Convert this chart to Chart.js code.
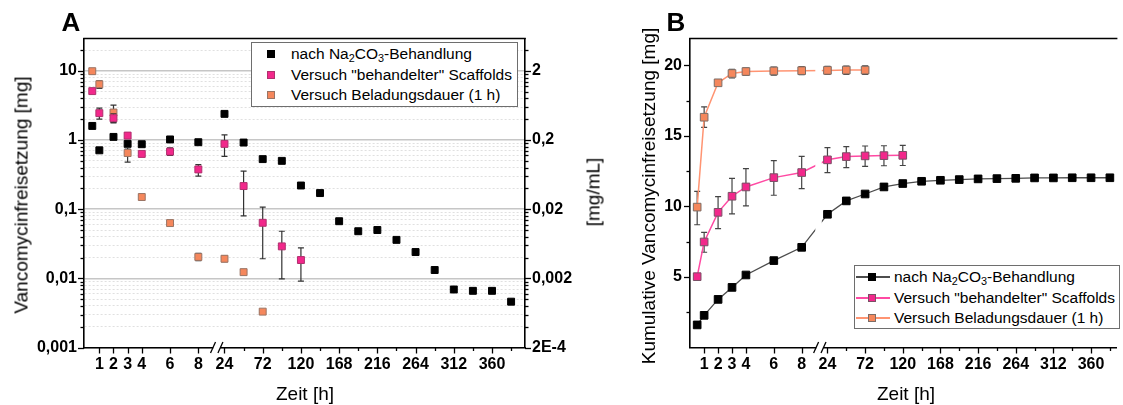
<!DOCTYPE html>
<html lang="de">
<head>
<meta charset="utf-8">
<title>Vancomycinfreisetzung</title>
<script src="https://cdn.jsdelivr.net/npm/chart.js@4.4.1/dist/chart.umd.min.js"></script>
<style>
  body { margin: 0; background: #fff; font-family: 'Liberation Sans', Arial, sans-serif; color: #000; }
  #page { position: relative; width: 1123px; height: 405px; overflow: hidden; }
  canvas { position: absolute; top: 0; }
  .txt { position: absolute; white-space: nowrap; line-height: 1; transform: translate(-50%, -50%); }
  .rot { transform: translate(-50%, -50%) rotate(-90deg); }
  .letter { font-size: 26px; font-weight: bold; }
  .title { font-size: 19px; }
  .legend { position: absolute; background: #fff; border: 1.5px solid #6e6e6e; box-sizing: border-box; font-size: 15.5px; }
  .legend .row { position: absolute; left: 0; right: 0; height: 20px; line-height: 20px; white-space: nowrap; }
  .legend .mark { position: absolute; top: 6px; width: 8px; height: 8px; box-sizing: border-box; border: 1px solid; }
  .legend .line { position: absolute; top: 9.3px; height: 1.4px; }
  .legend .label { position: absolute; top: 0; }
  sub { font-size: 70%; line-height: 0; vertical-align: -0.25em; }
</style>
</head>
<body>
<div id="page">
  <canvas id="chartA" width="615" height="405" style="left:0"></canvas>
  <canvas id="chartB" width="508" height="405" style="left:615px"></canvas>

  <div class="txt letter" style="left:71px;top:22px">A</div>
  <div class="txt letter" style="left:676px;top:22px">B</div>

  <div class="txt title rot" style="left:21px;top:195px">Vancomycinfreisetzung [mg]</div>
  <div class="txt title rot" style="left:593px;top:192px">[mg/mL]</div>
  <div class="txt title" style="left:305px;top:393px">Zeit [h]</div>
  <div class="txt title rot" style="left:648px;top:196px">Kumulative Vancomycinfreisetzung [mg]</div>
  <div class="txt title" style="left:906px;top:393px">Zeit [h]</div>

  <div class="legend" style="left:251px;top:42px;width:267px;height:65px">
    <div class="row" style="top:1px">
      <span class="mark" style="left:15px;background:#000;border-color:#000"></span>
      <span class="label" style="left:39px">nach Na<sub>2</sub>CO<sub>3</sub>-Behandlung</span>
    </div>
    <div class="row" style="top:22px">
      <span class="mark" style="left:15px;background:#f2288b;border-color:#b0306e"></span>
      <span class="label" style="left:39px">Versuch "behandelter" Scaffolds</span>
    </div>
    <div class="row" style="top:42px">
      <span class="mark" style="left:15px;background:#f5875c;border-color:#9a7464"></span>
      <span class="label" style="left:39px">Versuch Beladungsdauer (1 h)</span>
    </div>
  </div>

  <div class="legend" style="left:854px;top:265px;width:266px;height:64px">
    <div class="row" style="top:1px">
      <span class="line" style="left:1px;width:34px;background:#4d4d4d"></span>
      <span class="mark" style="left:13px;background:#000;border-color:#000"></span>
      <span class="label" style="left:39px">nach Na<sub>2</sub>CO<sub>3</sub>-Behandlung</span>
    </div>
    <div class="row" style="top:22px">
      <span class="line" style="left:1px;width:34px;background:#ff4aa3"></span>
      <span class="mark" style="left:13px;background:#f2288b;border-color:#7a5066"></span>
      <span class="label" style="left:39px">Versuch "behandelter" Scaffolds</span>
    </div>
    <div class="row" style="top:42px">
      <span class="line" style="left:1px;width:34px;background:#ff9472"></span>
      <span class="mark" style="left:13px;background:#f5875c;border-color:#7e6d66"></span>
      <span class="label" style="left:39px">Versuch Beladungsdauer (1 h)</span>
    </div>
  </div>
</div>

<script>
// Sampling times [h]
const hours = [0.5, 1, 2, 3, 4, 6, 8, 24, 48, 72, 96, 120, 144, 168, 192, 216, 240, 264, 288, 312, 336, 360, 384];

// Panel A: release per sampling interval [mg]
const naRelease = [1.6, 0.71, 1.11, 0.88, 0.87, 1.02, 0.93, 2.39, 0.92, 0.53, 0.50, 0.22, 0.171, 0.067, 0.048, 0.050, 0.036, 0.024, 0.0132, 0.0069, 0.0066, 0.0066, 0.0046];
const treatedRelease = [5.1, 2.45, 2.07, 1.16, 0.63, 0.68, 0.376, 0.88, 0.216, 0.0636, 0.029, 0.0184];
const treatedLow = [4.8, 2.0, 1.8, 1.05, 0.59, 0.6, 0.30, 0.58, 0.080, 0.0192, 0.0098, 0.0091];
const treatedHigh = [5.4, 2.9, 2.4, 1.27, 0.67, 0.77, 0.44, 1.19, 0.356, 0.107, 0.048, 0.0275];
const loadingRelease = [9.9, 6.4, 2.5, 0.65, 0.15, 0.063, 0.0204, 0.0192, 0.0123, 0.0033];
const loadingLow = [9.3, 5.6, 1.77, 0.48, 0.14, 0.06, 0.018, 0.0175, 0.0117, 0.0032];
const loadingHigh = [10.5, 7.2, 3.2, 0.77, 0.16, 0.066, 0.023, 0.021, 0.013, 0.0034];

// Panel B: cumulative release [mg]
const naCumulative = [1.6, 2.28, 3.41, 4.26, 5.14, 6.16, 7.1, 9.44, 10.39, 10.88, 11.38, 11.62, 11.78, 11.85, 11.9, 11.95, 11.97, 11.99, 12.02, 12.02, 12.03, 12.03, 12.03];
const treatedCumulative = [5.02, 7.48, 9.58, 10.72, 11.38, 12.04, 12.4, 13.3, 13.53, 13.58, 13.6, 13.62];
const treatedCumLow = [4.9, 6.75, 8.43, 9.47, 10.04, 10.79, 11.26, 12.4, 12.75, 12.83, 12.88, 12.9];
const treatedCumHigh = [5.15, 8.16, 10.7, 11.99, 12.68, 13.25, 13.55, 14.17, 14.24, 14.28, 14.3, 14.32];
const loadingCumulative = [9.95, 16.32, 18.76, 19.42, 19.56, 19.6, 19.62, 19.64, 19.66, 19.66];
const loadingCumLow = [8.7, 15.6, 18.6, 19.1, 19.3, 19.3, 19.33, 19.35, 19.36, 19.36];
const loadingCumHigh = [11.07, 17.06, 18.92, 19.72, 19.8, 19.88, 19.9, 19.92, 19.95, 19.96];

// Axis ticks
const xTickHours = [1, 2, 3, 4, 6, 8, 24, 72, 120, 168, 216, 264, 312, 360];
const xTickLabels = ['1', '2', '3', '4', '6', '8', '24', '72', '120', '168', '216', '264', '312', '360'];
const xMinorHours = [48, 96, 144, 192, 240, 288, 336, 384];
const yTicksA = [0.001, 0.01, 0.1, 1, 10];
const yLabelsA = ['0,001', '0,01', '0,1', '1', '10'];
const y2TicksA = [0.0002, 0.002, 0.02, 0.2, 2];
const y2LabelsA = ['2E-4', '0,002', '0,02', '0,2', '2'];
const yTicksB = [5, 10, 15, 20];
const yLabelsB = ['5', '10', '15', '20'];
const yMinorB = [2.5, 7.5, 12.5, 17.5];

const seriesNames = ['nach Na₂CO₃-Behandlung', 'Versuch "behandelter" Scaffolds', 'Versuch Beladungsdauer (1 h)'];

const FONT = "'Liberation Sans', Arial, sans-serif";
const tickFont = { family: FONT, size: 16, weight: 'bold' };

// Broken time axis: 0-9.3 h linear, then a compressed linear part from ~14 h on
const BREAK_AT = 9.3;
function axisPos(t) {
    return t <= BREAK_AT ? t : 9.85 + (t - 24) * 0.0563;
}

function toPoints(values) {
    return values.map((v, i) => ({ x: axisPos(hours[i]), y: v }));
}

// minor log ticks 2..9 per decade
const A_MAX = 29.4;
const yMinorA = [];
yTicksA.forEach(d => {
    for (let m = 2; m <= 9; m++) {
        const v = +(d * m).toPrecision(3);
        if (v < A_MAX) yMinorA.push(v);
    }
});

// Error bars, drawn just under each dataset's markers
const errorBars = {
    id: 'errorBars',
    beforeDatasetDraw(chart, args) {
        const ds = chart.data.datasets[args.index];
        if (!ds.errLow) return;
        const ctx = chart.ctx;
        const yScale = chart.scales.y;
        ctx.save();
        ctx.strokeStyle = ds.errColor || '#333';
        ctx.lineWidth = 1.2;
        args.meta.data.forEach((pt, i) => {
            const yLo = yScale.getPixelForValue(ds.errLow[i]);
            const yHi = yScale.getPixelForValue(ds.errHigh[i]);
            ctx.beginPath();
            ctx.moveTo(pt.x, yLo);
            ctx.lineTo(pt.x, yHi);
            ctx.moveTo(pt.x - 3, yLo);
            ctx.lineTo(pt.x + 3, yLo);
            ctx.moveTo(pt.x - 3, yHi);
            ctx.lineTo(pt.x + 3, yHi);
            ctx.stroke();
        });
        ctx.restore();
    }
};

// Outward tick marks (major + minor) on every axis
const tickMarks = {
    id: 'tickMarks',
    afterDraw(chart, args, opts) {
        const { ctx, chartArea } = chart;
        ctx.save();
        ctx.strokeStyle = '#000';
        ctx.lineWidth = 1.3;
        opts.marks.forEach(m => {
            const scale = chart.scales[m.axis];
            m.values.forEach(v => {
                const p = Math.round(scale.getPixelForValue(v)) + 0.5;
                ctx.beginPath();
                if (scale.isHorizontal()) {
                    ctx.moveTo(p, chartArea.bottom);
                    ctx.lineTo(p, chartArea.bottom + m.len);
                } else if (scale.position === 'left') {
                    ctx.moveTo(chartArea.left, p);
                    ctx.lineTo(chartArea.left - m.len, p);
                } else {
                    ctx.moveTo(chartArea.right, p);
                    ctx.lineTo(chartArea.right + m.len, p);
                }
                ctx.stroke();
            });
        });
        ctx.restore();
    }
};

// Top border, axis break "//" and the gap it cuts into the lines
const frame = {
    id: 'frame',
    afterDatasetsDraw(chart, args, opts) {
        if (!opts.gap) return;
        const { ctx, chartArea } = chart;
        const xb = chart.scales.x.getPixelForValue(BREAK_AT);
        ctx.save();
        ctx.fillStyle = '#fff';
        ctx.fillRect(xb - 4.5, chartArea.top + 2, 6.5, chartArea.bottom - chartArea.top - 4);
        ctx.restore();
    },
    afterDraw(chart) {
        const { ctx, chartArea } = chart;
        const xb = chart.scales.x.getPixelForValue(BREAK_AT);
        const yb = chartArea.bottom;
        ctx.save();
        ctx.strokeStyle = '#000';
        ctx.lineWidth = 1.6;
        ctx.beginPath();
        ctx.moveTo(chartArea.left - 0.8, chartArea.top);
        ctx.lineTo(chartArea.right + 0.8, chartArea.top);
        ctx.stroke();

        ctx.fillStyle = '#fff';
        ctx.fillRect(xb - 3.5, yb - 2, 7, 4);
        ctx.lineWidth = 1.3;
        [-3.7, 3.7].forEach(dx => {
            ctx.beginPath();
            ctx.moveTo(xb + dx - 2.5, yb + 5.5);
            ctx.lineTo(xb + dx + 2.5, yb - 5.5);
            ctx.stroke();
        });
        ctx.restore();
    }
};

function timeScale(min, max) {
    return {
        type: 'linear',
        position: 'bottom',
        min: min,
        max: max,
        afterBuildTicks: s => { s.ticks = xTickHours.map(h => ({ value: axisPos(h) })); },
        afterFit: s => { s.height = 57.5; },
        grid: { drawOnChartArea: false, drawTicks: false },
        border: { display: true, color: '#000', width: 1.6 },
        ticks: {
            autoSkip: false, maxRotation: 0, padding: 7, color: '#000', font: tickFont,
            callback: (v, i) => xTickLabels[i]
        }
    };
}

function logTicks(majors, minors) {
    return majors.map(v => ({ value: v, major: true }))
        .concat(minors.map(v => ({ value: v, major: false })))
        .sort((a, b) => a.value - b.value);
}

const commonOptions = {
    responsive: false,
    devicePixelRatio: 1,
    animation: false,
    events: [],
    plugins: {
        legend: { display: false },
        tooltip: { enabled: false }
    }
};

// Panel A
new Chart(document.getElementById('chartA'), {
    type: 'scatter',
    data: {
        datasets: [
            {
                label: seriesNames[1],
                data: toPoints(treatedRelease),
                errLow: treatedLow, errHigh: treatedHigh,
                pointStyle: 'rect', pointRadius: 4.9, pointBorderWidth: 1,
                backgroundColor: '#f2288b', borderColor: '#b0306e',
                order: 0
            },
            {
                label: seriesNames[2],
                data: toPoints(loadingRelease),
                errLow: loadingLow, errHigh: loadingHigh,
                pointStyle: 'rect', pointRadius: 4.9, pointBorderWidth: 1,
                backgroundColor: '#f5875c', borderColor: '#9a7464',
                order: 1
            },
            {
                label: seriesNames[0],
                data: toPoints(naRelease),
                pointStyle: 'rect', pointRadius: 4.9, pointBorderWidth: 1,
                backgroundColor: '#000', borderColor: '#000',
                order: 2
            }
        ]
    },
    options: {
        ...commonOptions,
        layout: { padding: { top: 38.5, left: 0, right: 0, bottom: 0 } },
        scales: {
            x: timeScale(-0.085, 31.1),
            y: {
                type: 'logarithmic',
                position: 'left',
                min: 0.001,
                max: A_MAX,
                afterBuildTicks: s => { s.ticks = logTicks(yTicksA, yMinorA); },
                afterFit: s => { s.width = 84; },
                grid: {
                    drawTicks: false,
                    color: c => (c.tick && c.tick.major) ? '#c6c6c6' : '#e0e0e0',
                    lineWidth: c => (c.tick && c.tick.major) ? 1.4 : 1
                },
                border: {
                    display: true, color: '#000', width: 1.6,
                    dash: c => (c.tick && !c.tick.major) ? [2, 2] : []
                },
                ticks: {
                    autoSkip: false, padding: 7, color: '#000', font: tickFont,
                    callback: (v, i, ticks) => ticks[i].major ? yLabelsA[yTicksA.indexOf(v)] : ''
                }
            },
            y2: {
                type: 'logarithmic',
                position: 'right',
                min: 0.001 / 5,
                max: A_MAX / 5,
                afterBuildTicks: s => { s.ticks = logTicks(y2TicksA, []); },
                afterFit: s => { s.width = 90; },
                grid: { drawOnChartArea: false, drawTicks: false },
                border: { display: true, color: '#000', width: 1.6 },
                ticks: {
                    autoSkip: false, padding: 7, color: '#000', font: tickFont,
                    callback: (v, i) => y2LabelsA[i]
                }
            }
        },
        plugins: {
            ...commonOptions.plugins,
            tickMarks: {
                marks: [
                    { axis: 'x', values: xTickHours.map(axisPos), len: 6 },
                    { axis: 'x', values: xMinorHours.map(axisPos), len: 3.5 },
                    { axis: 'y', values: yTicksA, len: 6 },
                    { axis: 'y', values: yMinorA, len: 3.5 },
                    { axis: 'y2', values: y2TicksA, len: 6 },
                    { axis: 'y2', values: yMinorA.map(v => v / 5), len: 3.5 }
                ]
            },
            frame: { gap: false }
        }
    },
    plugins: [errorBars, tickMarks, frame]
});

// Panel B
new Chart(document.getElementById('chartB'), {
    type: 'scatter',
    data: {
        datasets: [
            {
                label: seriesNames[0],
                data: toPoints(naCumulative),
                showLine: true, borderColor: '#4d4d4d', borderWidth: 1.3,
                pointStyle: 'rect', pointRadius: 5.4, pointBorderWidth: 1,
                pointBackgroundColor: '#000', pointBorderColor: '#000',
                order: 2
            },
            {
                label: seriesNames[1],
                data: toPoints(treatedCumulative),
                errLow: treatedCumLow, errHigh: treatedCumHigh, errColor: '#444',
                showLine: true, borderColor: '#ff4aa3', borderWidth: 1.5,
                pointStyle: 'rect', pointRadius: 5.4, pointBorderWidth: 1,
                pointBackgroundColor: '#f2288b', pointBorderColor: '#7a5066',
                order: 1
            },
            {
                label: seriesNames[2],
                data: toPoints(loadingCumulative),
                errLow: loadingCumLow, errHigh: loadingCumHigh, errColor: '#444',
                showLine: true, borderColor: '#ff9472', borderWidth: 1.5,
                pointStyle: 'rect', pointRadius: 5.4, pointBorderWidth: 1,
                pointBackgroundColor: '#f5875c', pointBorderColor: '#7e6d66',
                order: 0
            }
        ]
    },
    options: {
        ...commonOptions,
        layout: { padding: { top: 38.5, left: 0, right: 0, bottom: 0 } },
        scales: {
            x: timeScale(-0.015, 30.6),
            y: {
                type: 'linear',
                position: 'left',
                min: 0,
                max: 21.9,
                afterBuildTicks: s => { s.ticks = yTicksB.map(v => ({ value: v })); },
                afterFit: s => { s.width = 75; },
                grid: { drawOnChartArea: false, drawTicks: false },
                border: { display: true, color: '#000', width: 1.6 },
                ticks: {
                    autoSkip: false, padding: 8, color: '#000', font: tickFont,
                    callback: (v, i) => yLabelsB[i]
                }
            }
        },
        plugins: {
            ...commonOptions.plugins,
            tickMarks: {
                marks: [
                    { axis: 'x', values: xTickHours.map(axisPos), len: 6 },
                    { axis: 'x', values: xMinorHours.map(axisPos), len: 3.5 },
                    { axis: 'y', values: yTicksB, len: 6 },
                    { axis: 'y', values: yMinorB, len: 3.5 }
                ]
            },
            frame: { gap: true }
        }
    },
    plugins: [errorBars, tickMarks, frame]
});
</script>
</body>
</html>
